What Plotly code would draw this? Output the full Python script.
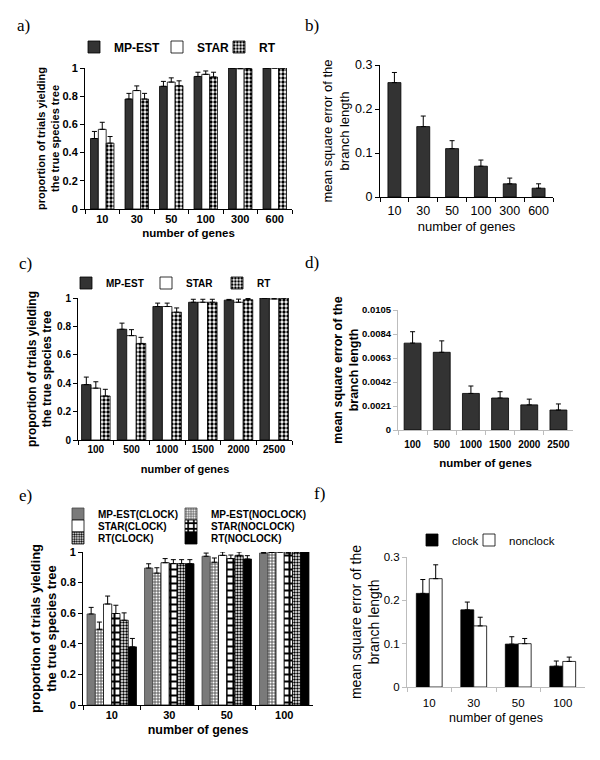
import plotly.graph_objects as go

# ---------------- data ----------------
genes_a = ["10", "30", "50", "100", "300", "600"]
a_mpest = [0.50, 0.78, 0.87, 0.94, 1.00, 1.00]
a_mpest_err = [0.05, 0.04, 0.035, 0.03, 0.0, 0.0]
a_star = [0.565, 0.84, 0.90, 0.955, 0.995, 1.00]
a_star_err = [0.05, 0.033, 0.03, 0.024, 0.005, 0.0]
a_rt = [0.467, 0.78, 0.874, 0.936, 0.995, 1.00]
a_rt_err = [0.047, 0.04, 0.035, 0.034, 0.005, 0.0]

genes_b = ["10", "30", "50", "100", "300", "600"]
b_mse = [0.26, 0.16, 0.11, 0.07, 0.03, 0.02]
b_mse_err = [0.023, 0.024, 0.018, 0.014, 0.013, 0.01]

genes_c = ["100", "500", "1000", "1500", "2000", "2500"]
c_mpest = [0.39, 0.78, 0.94, 0.97, 0.985, 1.00]
c_mpest_err = [0.053, 0.043, 0.024, 0.021, 0.005, 0.0]
c_star = [0.365, 0.735, 0.94, 0.97, 0.97, 0.993]
c_star_err = [0.045, 0.042, 0.024, 0.021, 0.022, 0.005]
c_rt = [0.31, 0.68, 0.90, 0.97, 0.988, 1.00]
c_rt_err = [0.047, 0.043, 0.03, 0.021, 0.008, 0.0]

genes_d = ["100", "500", "1000", "1500", "2000", "2500"]
d_mse = [0.0076, 0.0068, 0.0032, 0.0028, 0.0022, 0.00175]
d_mse_err = [0.0010, 0.0010, 0.00065, 0.00055, 0.0005, 0.00053]
d_ticks = [0, 0.0021, 0.0042, 0.0063, 0.0084, 0.0105]
d_ticktext = ["0", "0.0021", "0.0042", "0.0063", "0.0084", "0.0105"]

genes_e = ["10", "30", "50", "100"]
e_mp_clock = [0.595, 0.895, 0.972, 0.993]
e_mp_clock_err = [0.043, 0.028, 0.021, 0.003]
e_mp_noclock = [0.495, 0.862, 0.933, 0.997]
e_mp_noclock_err = [0.047, 0.035, 0.028, 0.002]
e_star_clock = [0.66, 0.93, 0.978, 1.00]
e_star_clock_err = [0.052, 0.027, 0.022, 0.0]
e_star_noclock = [0.598, 0.924, 0.957, 0.993]
e_star_noclock_err = [0.054, 0.026, 0.023, 0.005]
e_rt_clock = [0.554, 0.924, 0.978, 1.00]
e_rt_clock_err = [0.048, 0.026, 0.022, 0.0]
e_rt_noclock = [0.38, 0.924, 0.954, 1.00]
e_rt_noclock_err = [0.055, 0.026, 0.022, 0.0]

genes_f = ["10", "30", "50", "100"]
f_clock = [0.216, 0.178, 0.099, 0.048]
f_clock_err = [0.032, 0.018, 0.017, 0.012]
f_nonclock = [0.25, 0.141, 0.10, 0.059]
f_nonclock_err = [0.032, 0.02, 0.012, 0.01]

# ---------------- helpers ----------------
W, H = 600, 760
SANS = "Liberation Sans, Arial, sans-serif"
SERIF = "Liberation Serif, Times New Roman, serif"


def px_x(a, b):
    return [a / W, b / W]


def px_y(top, bottom):
    return [1 - bottom / H, 1 - top / H]


def fnt(size, bold=False):
    d = dict(family=SANS, size=size, color="black")
    if bold:
        d["weight"] = "bold"
    return d


def err(vals):
    return dict(type="data", array=vals, arrayminus=[0] * len(vals), symmetric=False,
                color="black", thickness=1, width=2.5, visible=True)


def bar(x, y, e, name, xa, ya, idx, nbars, group_w, color, pattern=None, legend=None,
        showlegend=True, line_color="black"):
    w = group_w / nbars
    marker = dict(color=color, line=dict(color=line_color, width=0.8))
    if pattern:
        marker["pattern"] = pattern
    return go.Bar(x=x, y=y, name=name, xaxis=xa, yaxis=ya, width=w,
                  offset=-group_w / 2 + idx * w, marker=marker, error_y=err(e),
                  legend=legend, showlegend=showlegend)


DARK = "#333333"
checker = dict(shape=".", fgcolor="black", bgcolor="white", size=4, solidity=0.55, fillmode="replace")
checker_big = dict(shape="+", fgcolor="black", bgcolor="white", size=7, solidity=0.5, fillmode="replace")
checker_fine = dict(shape=".", fgcolor="black", bgcolor="white", size=3, solidity=0.5, fillmode="replace")
grey_dots = dict(shape=".", fgcolor="white", bgcolor="#7a7a7a", size=3, solidity=0.35, fillmode="replace")

traces = []
# panel a
traces.append(bar(genes_a, a_mpest, a_mpest_err, "MP-EST", "x", "y", 0, 3, 0.68, DARK, legend="legend"))
traces.append(bar(genes_a, a_star, a_star_err, "STAR", "x", "y", 1, 3, 0.68, "white", legend="legend2"))
traces.append(bar(genes_a, a_rt, a_rt_err, "RT", "x", "y", 2, 3, 0.68, "white", pattern=checker, legend="legend3"))
# panel b
traces.append(bar(genes_b, b_mse, b_mse_err, "MSE", "x2", "y2", 0, 1, 0.45, DARK, showlegend=False))
# panel c
traces.append(bar(genes_c, c_mpest, c_mpest_err, "MP-EST", "x3", "y3", 0, 3, 0.8, DARK, legend="legend4"))
traces.append(bar(genes_c, c_star, c_star_err, "STAR", "x3", "y3", 1, 3, 0.8, "white", legend="legend5"))
traces.append(bar(genes_c, c_rt, c_rt_err, "RT", "x3", "y3", 2, 3, 0.8, "white", pattern=checker, legend="legend6"))
# panel d
traces.append(bar(genes_d, d_mse, d_mse_err, "MSE", "x4", "y4", 0, 1, 0.58, DARK, showlegend=False))
# panel e
GW = 0.86
traces.append(bar(genes_e, e_mp_clock, e_mp_clock_err, "MP-EST(CLOCK)", "x5", "y5", 0, 6, GW, "#7a7a7a", legend="legend7", line_color="#444"))
traces.append(bar(genes_e, e_mp_noclock, e_mp_noclock_err, "MP-EST(NOCLOCK)", "x5", "y5", 1, 6, GW, "#7a7a7a", pattern=grey_dots, legend="legend8", line_color="#444"))
traces.append(bar(genes_e, e_star_clock, e_star_clock_err, "STAR(CLOCK)", "x5", "y5", 2, 6, GW, "white", legend="legend9"))
traces.append(bar(genes_e, e_star_noclock, e_star_noclock_err, "STAR(NOCLOCK)", "x5", "y5", 3, 6, GW, "white", pattern=checker_big, legend="legend10"))
traces.append(bar(genes_e, e_rt_clock, e_rt_clock_err, "RT(CLOCK)", "x5", "y5", 4, 6, GW, "white", pattern=checker_fine, legend="legend11"))
traces.append(bar(genes_e, e_rt_noclock, e_rt_noclock_err, "RT(NOCLOCK)", "x5", "y5", 5, 6, GW, "black", legend="legend12"))
# panel f
traces.append(bar(genes_f, f_clock, f_clock_err, "clock", "x6", "y6", 0, 2, 0.58, "black", legend="legend13"))
traces.append(bar(genes_f, f_nonclock, f_nonclock_err, "nonclock", "x6", "y6", 1, 2, 0.58, "white", legend="legend14"))

fig = go.Figure(traces)


def xax(domain, anchor, n, title, font, tfont, linecolor="black", standoff=4, lblpad=0):
    return dict(domain=domain, anchor=anchor, type="category", range=[-0.5, n - 0.5],
                showline=True, linecolor=linecolor, linewidth=1, ticks="outside",
                tickson="boundaries", ticklen=4, tickcolor=linecolor, showgrid=False,
                zeroline=False, tickfont=tfont, tickangle=0, fixedrange=True,
                ticklabelstandoff=lblpad,
                title=dict(text=title, font=font, standoff=standoff))


def yax(domain, anchor, rng, title, font, tfont, linecolor="black", dtick=None,
        tickvals=None, ticktext=None, standoff=2):
    d = dict(domain=domain, anchor=anchor, range=rng, showline=True, linecolor=linecolor,
             linewidth=1, ticks="outside", ticklen=4, tickcolor=linecolor, showgrid=False,
             zeroline=False, tickfont=tfont, fixedrange=True,
             title=dict(text=title, font=font, standoff=standoff))
    if dtick is not None:
        d["dtick"] = dtick
        d["tick0"] = 0
    if tickvals is not None:
        d["tickmode"] = "array"
        d["tickvals"] = tickvals
        d["ticktext"] = ticktext
    return d


def leg(swatch_left, y, font):
    # single-item legend: its swatch starts near swatch_left, centred on row y
    return dict(orientation="v", x=(swatch_left - 14) / W, xanchor="left", y=1 - y / H,
                yanchor="middle", font=font, bgcolor="rgba(0,0,0,0)", itemwidth=30,
                tracegroupgap=0, borderwidth=0)


GREY = "#bdbdbd"
Y_PROP = "proportion of trials yielding<br>the true species tree"
Y_MSE = "mean square error of the<br>branch length"
X_GEN = "number of genes"

fig.update_layout(
    width=W, height=H, margin=dict(l=0, r=0, t=0, b=0, pad=0, autoexpand=False),
    paper_bgcolor="white", plot_bgcolor="white", barmode="overlay",
    font=dict(family=SANS, color="black"),
    # a
    xaxis=xax(px_x(85, 292), "y", 6, X_GEN, fnt(11.5, True), fnt(11, True)),
    yaxis=yax(px_y(68, 209), "x", [0, 1], Y_PROP, fnt(11, True), fnt(11, True), dtick=0.2, standoff=0),
    # b
    xaxis2=xax(px_x(380, 553), "y2", 6, X_GEN, fnt(13), fnt(12.5), lblpad=2),
    yaxis2=yax(px_y(65, 197), "x2", [0, 0.3], Y_MSE, fnt(13), fnt(12.5), dtick=0.1),
    # c
    xaxis3=xax(px_x(78, 292), "y3", 6, X_GEN, fnt(11, True), fnt(10, True), standoff=11),
    yaxis3=yax(px_y(298, 440), "x3", [0, 1], Y_PROP, fnt(12, True), fnt(10, True), dtick=0.2),
    # d
    xaxis4=xax(px_x(398, 573), "y4", 6, X_GEN, fnt(11.5, True), fnt(10, True), linecolor=GREY,
               standoff=9, lblpad=5),
    yaxis4=yax(px_y(310, 430), "x4", [0, 0.0105], Y_MSE, fnt(12.5, True), fnt(9.5, True),
               linecolor=GREY, tickvals=d_ticks, ticktext=d_ticktext, standoff=0),
    # e
    xaxis5=xax(px_x(83, 313), "y5", 4, X_GEN, fnt(12.5, True), fnt(11, True), standoff=5),
    yaxis5=yax(px_y(552, 705), "x5", [0, 1], Y_PROP, fnt(13, True), fnt(11, True), dtick=0.2, standoff=0),
    # f
    xaxis6=xax(px_x(407, 585), "y6", 4, X_GEN, fnt(12.5), fnt(11.5), linecolor=GREY,
               standoff=5, lblpad=5),
    yaxis6=yax(px_y(557, 687), "x6", [0, 0.3], Y_MSE, fnt(14), fnt(11.5), linecolor=GREY,
               dtick=0.1, standoff=0),
    legend=leg(88, 47, fnt(12, True)),
    legend2=leg(171, 47, fnt(12, True)),
    legend3=leg(233, 47, fnt(12, True)),
    legend4=leg(80, 283, fnt(10, True)),
    legend5=leg(160, 283, fnt(10, True)),
    legend6=leg(231, 283, fnt(10, True)),
    legend7=leg(72, 514, fnt(10, True)),
    legend8=leg(185, 514, fnt(10, True)),
    legend9=leg(72, 526, fnt(10, True)),
    legend10=leg(185, 526, fnt(10, True)),
    legend11=leg(72, 538, fnt(10, True)),
    legend12=leg(185, 538, fnt(10, True)),
    legend13=leg(426, 540, fnt(11.5)),
    legend14=leg(483, 540, fnt(11.5)),
)

labels = [("a)", 15, 25), ("b)", 303, 25), ("c)", 17, 263), ("d)", 303, 262),
          ("e)", 17, 495), ("f)", 312, 493)]
for t, x, y in labels:
    fig.add_annotation(text=t, x=x / W, y=1 - y / H, xref="paper", yref="paper",
                       xanchor="left", yanchor="middle", showarrow=False,
                       font=dict(family=SERIF, size=17, color="black"))

fig.write_html("out.html", config={"displayModeBar": False},
               post_script="document.body.style.margin='0';document.body.style.overflow='hidden';")
